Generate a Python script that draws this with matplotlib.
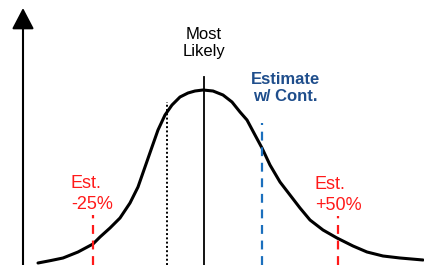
import matplotlib
matplotlib.use("Agg")
from matplotlib import pyplot as plt

plt.rcParams['font.family'] = ['Liberation Sans', 'DejaVu Sans']

# curve (x = cost, y = likelihood), arbitrary units
curve_x = [15, 28, 40, 55, 70, 77, 87, 97, 107, 115, 122, 129, 135, 142, 149,
           157, 165, 172, 180, 190, 200, 209, 217, 224, 232, 239, 247, 257,
           267, 277, 287, 300, 314, 330, 344, 360, 377, 400]
curve_y = [2, 4.5, 7, 13, 21, 28, 37, 47, 62, 78, 98, 118, 135, 150, 160,
           168, 172, 174, 175, 174, 170, 163, 153, 145, 130, 117, 100, 83,
           70, 57, 45, 35, 27, 19, 13, 9, 7, 5]

# marker lines: position and height where they stop
most_likely_x, most_likely_top = 181, 188
p_low_x, p_low_top = 144, 163          # dotted line
cont_x, cont_top = 239, 142            # estimate with contingency
minus25_x, minus25_top = 70, 50
plus50_x, plus50_top = 315, 49

fig = plt.figure(figsize=(4.24, 2.65), dpi=100)
ax = fig.add_axes([0, 0, 1, 1])
ax.set_xlim(-23, 401)
ax.set_ylim(0, 265)
ax.axis('off')

# y axis with arrow head
ax.annotate('', xy=(0, 257), xytext=(0, -5),
            arrowprops=dict(arrowstyle='-|>,head_length=0.65,head_width=0.34',
                            mutation_scale=20, lw=1.5, color='black',
                            shrinkA=0, shrinkB=0))

ax.plot(curve_x, curve_y, color='black', lw=2.2, solid_capstyle='round',
        solid_joinstyle='round')

ax.plot([most_likely_x, most_likely_x], [0, most_likely_top], color='black', lw=1.3)
ax.plot([p_low_x, p_low_x], [0, p_low_top], color='black', lw=1.4, ls=(0, (1, 1.2)))
ax.plot([cont_x, cont_x], [0, cont_top], color='#1b6fbd', lw=1.6, ls=(0, (4, 3)))
ax.plot([minus25_x, minus25_x], [0, minus25_top], color='#ff1a1a', lw=1.6, ls=(0, (4, 3)))
ax.plot([plus50_x, plus50_x], [0, plus50_top], color='#ff1a1a', lw=1.6, ls=(0, (4, 3)))

ax.text(181, 222, 'Most\nLikely', ha='center', va='center', fontsize=12,
        color='black', linespacing=1.15)
ax.text(262, 177, 'Estimate\nw/ Cont.', ha='center', va='center', fontsize=12,
        fontweight='bold', color='#1f4e8c', linespacing=1.2)
ax.text(48, 71, 'Est.\n-25%', ha='left', va='center', fontsize=13,
        color='#ff1a1a', linespacing=1.35)
ax.text(292, 70, 'Est.\n+50%', ha='left', va='center', fontsize=13,
        color='#ff1a1a', linespacing=1.35)

fig.savefig('out.png', dpi=100)
